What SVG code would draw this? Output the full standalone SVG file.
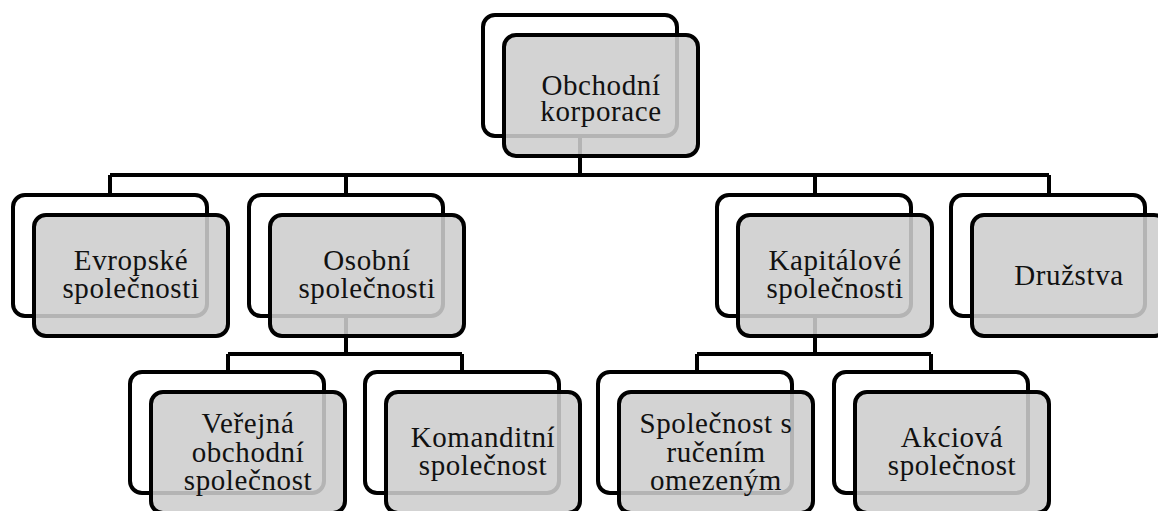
<svg xmlns="http://www.w3.org/2000/svg" width="1158" height="511" viewBox="0 0 1158 511">
<style>
.back{fill:#ffffff;stroke:#000;stroke-width:4}
.front{fill:#cdcdcd;fill-opacity:0.88;stroke:#000;stroke-width:4}
text{font-family:'Liberation Serif',serif;font-size:29px;letter-spacing:0.6px;fill:#111;text-anchor:middle}
.conn{fill:none;stroke:#000;stroke-width:4}
</style>
<rect width="1158" height="511" fill="#fff"/>
<g id="connectors" class="conn">
<path d="M580,137 V175 M110,175 H1049 M110,175 V195 M346,175 V195 M815,175 V195 M1049,175 V195"/>
<path d="M346,315 V354 M228,354 H462 M228,354 V372 M462,354 V372"/>
<path d="M815,315 V354 M697,354 H931 M697,354 V372 M931,354 V372"/>
</g>
<g id="n-obchodni">
<rect class="back" x="483" y="15" width="194" height="121" rx="12"/>
<rect class="front" x="504" y="35" width="194" height="121" rx="12"/>
<text x="601" y="95">Obchodní</text>
<text x="601" y="121">korporace</text>
</g>
<g id="n-evropske">
<rect class="back" x="13" y="195" width="194" height="121" rx="12"/>
<rect class="front" x="34" y="215" width="194" height="121" rx="12"/>
<text x="131" y="270">Evropské</text>
<text x="131" y="298">společnosti</text>
</g>
<g id="n-osobni">
<rect class="back" x="249" y="195" width="194" height="121" rx="12"/>
<rect class="front" x="270" y="215" width="194" height="121" rx="12"/>
<text x="367" y="270">Osobní</text>
<text x="367" y="298">společnosti</text>
</g>
<g id="n-kapitalove">
<rect class="back" x="717" y="195" width="194" height="121" rx="12"/>
<rect class="front" x="738" y="215" width="194" height="121" rx="12"/>
<text x="835" y="270">Kapitálové</text>
<text x="835" y="298">společnosti</text>
</g>
<g id="n-druzstva">
<rect class="back" x="951" y="195" width="194" height="121" rx="12"/>
<rect class="front" x="972" y="215" width="194" height="121" rx="12"/>
<text x="1069" y="285">Družstva</text>
</g>
<g id="n-verejna">
<rect class="back" x="130" y="372" width="194" height="121" rx="12"/>
<rect class="front" x="151" y="392" width="194" height="121" rx="12"/>
<text x="248" y="433">Veřejná</text>
<text x="248" y="462">obchodní</text>
<text x="248" y="490">společnost</text>
</g>
<g id="n-komanditni">
<rect class="back" x="365" y="372" width="194" height="121" rx="12"/>
<rect class="front" x="386" y="392" width="194" height="121" rx="12"/>
<text x="483" y="447">Komanditní</text>
<text x="483" y="475">společnost</text>
</g>
<g id="n-sro">
<rect class="back" x="598" y="372" width="194" height="121" rx="12"/>
<rect class="front" x="619" y="392" width="194" height="121" rx="12"/>
<text x="716" y="433">Společnost s</text>
<text x="716" y="462">ručením</text>
<text x="716" y="490">omezeným</text>
</g>
<g id="n-akciova">
<rect class="back" x="834" y="372" width="194" height="121" rx="12"/>
<rect class="front" x="855" y="392" width="194" height="121" rx="12"/>
<text x="952" y="447">Akciová</text>
<text x="952" y="475">společnost</text>
</g>
</svg>
